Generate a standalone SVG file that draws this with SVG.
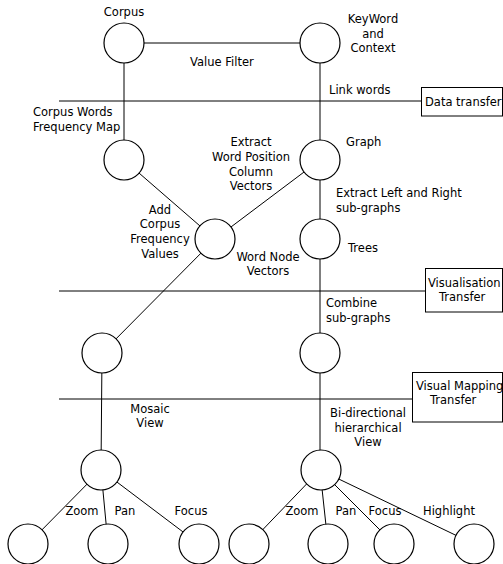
<svg xmlns="http://www.w3.org/2000/svg" width="503" height="564" viewBox="0 0 503 564">
<style>
text{font-family:"DejaVu Sans","Liberation Sans",sans-serif;font-size:11.5px;fill:#000}
.c{text-anchor:middle}
circle{fill:#fff;stroke:#000;stroke-width:1.2}
line{stroke:#000;stroke-width:1}
.box{fill:#fff;stroke:#000;stroke-width:1}
</style>
<rect width="503" height="564" fill="#fff"/>
<g id="connectors">
<line x1="124" y1="43" x2="320" y2="43"/>
<line x1="124" y1="43" x2="124" y2="160"/>
<line x1="320" y1="43" x2="320" y2="353"/>
<line x1="124" y1="160" x2="215" y2="239"/>
<line x1="320" y1="160" x2="215" y2="239"/>
<line x1="215" y1="239" x2="102" y2="353"/>
<line x1="102" y1="353" x2="101" y2="470"/>
<line x1="320" y1="353" x2="320" y2="470"/>
<line x1="101" y1="470" x2="28" y2="544"/>
<line x1="101" y1="470" x2="108" y2="544"/>
<line x1="101" y1="470" x2="199" y2="544"/>
<line x1="320" y1="470" x2="249" y2="544"/>
<line x1="320" y1="470" x2="328" y2="544"/>
<line x1="320" y1="470" x2="394" y2="544"/>
<line x1="320" y1="470" x2="474" y2="544"/>
</g>
<g id="layers">
<line x1="59" y1="101" x2="422" y2="101"/>
<line x1="59" y1="291" x2="425" y2="291"/>
<line x1="59" y1="399" x2="412" y2="399"/>
<g id="data-transfer"><rect class="box" x="421.5" y="87.5" width="81" height="28.5"/><text x="425" y="106">Data transfer</text></g>
<g id="vis-transfer"><rect class="box" x="425.5" y="268.5" width="77" height="43.5"/><text x="428" y="287">Visualisation</text><text x="439" y="301">Transfer</text></g>
<g id="vismap-transfer"><rect class="box" x="412.5" y="372.5" width="90" height="49.5"/><text x="416" y="390">Visual Mapping</text><text x="430" y="404">Transfer</text></g>
</g>
<g id="corpus"><circle cx="124" cy="43" r="20"/><text class="c" x="124" y="16">Corpus</text></g>
<g id="kwic"><circle cx="320" cy="43" r="20"/><text class="c" x="373" y="23">KeyWord</text><text class="c" x="373" y="38">and</text><text class="c" x="373" y="52">Context</text></g>
<g id="freqmap"><circle cx="124" cy="160" r="20"/><text x="33" y="116">Corpus Words</text><text x="33" y="131">Frequency Map</text></g>
<g id="graph"><circle cx="320" cy="160" r="20"/><text x="346" y="146">Graph</text></g>
<g id="wordnode"><circle cx="215" cy="239" r="20"/><text class="c" x="268" y="261">Word Node</text><text class="c" x="268" y="275">Vectors</text></g>
<g id="trees"><circle cx="320" cy="239" r="20"/><text x="348" y="252">Trees</text></g>
<g id="left4"><circle cx="102" cy="353" r="20"/></g>
<g id="right4"><circle cx="320" cy="353" r="20"/></g>
<g id="mosaic"><circle cx="101" cy="470" r="20"/></g>
<g id="bidir"><circle cx="321" cy="470" r="20"/></g>
<g id="l1"><circle cx="28" cy="544" r="20"/></g>
<g id="l2"><circle cx="108" cy="544" r="20"/></g>
<g id="l3"><circle cx="199" cy="544" r="20"/></g>
<g id="r1"><circle cx="249" cy="544" r="20"/></g>
<g id="r2"><circle cx="328" cy="544" r="20"/></g>
<g id="r3"><circle cx="394" cy="544" r="20"/></g>
<g id="r4"><circle cx="474" cy="544" r="20"/></g>
<g id="labels">
<text x="190" y="66">Value Filter</text>
<text x="329" y="94">Link words</text>
<text class="c" x="251" y="146">Extract</text>
<text class="c" x="251" y="161">Word Position</text>
<text class="c" x="251" y="176">Column</text>
<text class="c" x="251" y="190">Vectors</text>
<text class="c" x="160" y="214">Add</text>
<text class="c" x="160" y="228">Corpus</text>
<text class="c" x="160" y="243">Frequency</text>
<text class="c" x="160" y="258">Values</text>
<text x="336" y="197">Extract Left and Right</text>
<text x="336" y="212">sub-graphs</text>
<text x="326" y="307">Combine</text>
<text x="326" y="322">sub-graphs</text>
<text class="c" x="150" y="413">Mosaic</text>
<text class="c" x="150" y="427">View</text>
<text class="c" x="368" y="417">Bi-directional</text>
<text class="c" x="368" y="432">hierarchical</text>
<text class="c" x="368" y="446">View</text>
<text class="c" x="82" y="515">Zoom</text>
<text class="c" x="125" y="515">Pan</text>
<text class="c" x="191" y="515">Focus</text>
<text class="c" x="302" y="515">Zoom</text>
<text class="c" x="346" y="515">Pan</text>
<text class="c" x="385" y="515">Focus</text>
<text class="c" x="449" y="515">Highlight</text>
</g>
</svg>
